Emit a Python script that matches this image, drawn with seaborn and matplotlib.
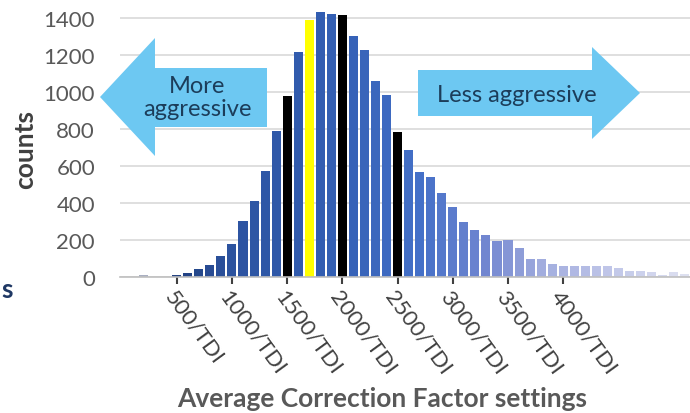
import numpy as np
import pandas as pd
import matplotlib
matplotlib.use("Agg")
import matplotlib.pyplot as plt
import matplotlib.transforms as mtransforms
from matplotlib.patches import Polygon
from matplotlib.colors import LinearSegmentedColormap, to_hex
import seaborn as sns

# ---------------- data ----------------
bins = [200, 300, 400, 500, 600, 700, 800, 900, 1000, 1100, 1200, 1300, 1400,
        1500, 1600, 1700, 1800, 1900, 2000, 2100, 2200, 2300, 2400, 2500, 2600,
        2700, 2800, 2900, 3000, 3100, 3200, 3300, 3400, 3500, 3600, 3700, 3800,
        3900, 4000, 4100, 4200, 4300, 4400, 4500, 4600, 4700, 4800, 4900, 5000,
        5100]
counts = [10, 0, 0, 13, 22, 41, 66, 113, 178, 305, 409, 575, 787,
          980, 1216, 1390, 1433, 1422, 1414, 1301, 1225, 1061, 986, 784, 688,
          566, 539, 454, 380, 296, 252, 225, 193, 198, 159, 99, 99,
          72, 58, 62, 62, 57, 60, 46, 35, 32, 25, 11, 27,
          14]
black_bins = [1500, 2000, 2500]
yellow_bins = [1700]
tick_values = [500, 1000, 1500, 2000, 2500, 3000, 3500, 4000]
tick_labels = ["500/TDI", "1000/TDI", "1500/TDI", "2000/TDI", "2500/TDI",
               "3000/TDI", "3500/TDI", "4000/TDI"]
y_ticks = [0, 200, 400, 600, 800, 1000, 1200, 1400]
left_arrow_text = "More\naggressive"
right_arrow_text = "Less aggressive"
x_title = "Average Correction Factor settings"
y_title = "counts"

# ---------------- style ----------------
sns.set_theme(style="white")
plt.rcParams['font.family'] = ['Lato', 'DejaVu Sans']

W, H = 690, 414
fig = plt.figure(figsize=(W / 100, H / 100), dpi=100)
base_px, top_px = 278, 4.2
ax = fig.add_axes([120 / W, (H - base_px) / H, 570 / W, (base_px - top_px) / H])

lo, hi = bins[0], bins[-1]
def f(v):
    return (v - lo) / (hi - lo)
cmap = LinearSegmentedColormap.from_list("grad", [
    (f(200), '#A9AFC2'), (f(500), '#21407F'), (f(1000), '#2C53A0'),
    (f(2000), '#3460B5'), (f(2700), '#4470C8'), (f(3300), '#7186D0'),
    (f(3800), '#A1ACDE'), (f(4500), '#C3C9E9'), (f(5100), '#DDE0F0')])

df = pd.DataFrame({"bin": bins, "count": counts})
df["key"] = df["bin"].astype(str)
palette = {}
for b in bins:
    if b in black_bins:
        c = '#000000'
    elif b in yellow_bins:
        c = '#FFFF00'
    else:
        c = to_hex(cmap(f(b)))
    palette[str(b)] = c

sns.barplot(data=df, x="bin", y="count", hue="key", palette=palette,
            hue_order=list(df["key"]), native_scale=True, dodge=False,
            width=0.82, legend=False, errorbar=None, saturation=1,
            linewidth=0, ax=ax)

ax.set_xlim(-14, 5148)
ax.set_ylim(0, 1480)
ax.set_yticks(y_ticks)
ax.set_yticklabels([str(v) for v in y_ticks])
ax.set_xticks(tick_values)
ax.set_xticklabels(tick_labels, rotation=-54, ha='left', va='top',
                   rotation_mode='anchor', fontsize=16, color='#404040')
offset = mtransforms.ScaledTranslation(-10 / 100, -1 / 100, fig.dpi_scale_trans)
for lab in ax.get_xticklabels():
    lab.set_transform(lab.get_transform() + offset)

ax.yaxis.grid(True, color='#D9D9D9', linewidth=1.2)
ax.xaxis.grid(False)
ax.set_axisbelow(True)
for s in ['left', 'top', 'right']:
    ax.spines[s].set_visible(False)
ax.spines['bottom'].set_color('#BFBFBF')
ax.spines['bottom'].set_linewidth(1.2)
ax.tick_params(axis='y', length=0, pad=18, labelsize=16, labelcolor='#595959')
ax.tick_params(axis='x', length=5, width=1.5, color='#404040', direction='out',
               pad=2, bottom=True)

ax.set_ylabel(y_title, fontsize=19, fontweight='bold', color='#404040')
ax.yaxis.label.set_va('center')
ax.yaxis.set_label_coords((25 - 120) / 570, (base_px - 150) / (base_px - top_px))
ax.set_xlabel(x_title, fontsize=19, fontweight='bold', color='#595959')
ax.xaxis.label.set_va('center')
ax.xaxis.set_label_coords((382 - 120) / 570, (base_px - 399) / (base_px - top_px))

# ---------------- arrows ----------------
def px(pts):
    return [(x / W, 1 - y / H) for x, y in pts]

arrow_color = '#6DC8F2'
left_pts = [(100, 98), (155, 39), (155, 69), (267, 69), (267, 128), (155, 128), (155, 157)]
right_pts = [(418, 71), (592, 71), (592, 48), (640, 94), (592, 140), (592, 117), (418, 117)]
for pts in (left_pts, right_pts):
    fig.add_artist(Polygon(px(pts), closed=True, transform=fig.transFigure,
                           facecolor=arrow_color, edgecolor='none', zorder=5))

fig.text(197 / W, 1 - 98 / H, left_arrow_text, ha='center', va='center',
         fontsize=17, color='#1C3D5A', linespacing=1.15, zorder=6)
fig.text(517 / W, 1 - 95 / H, right_arrow_text, ha='center', va='center',
         fontsize=17, color='#1C3D5A', zorder=6)

# letter at the left edge (remnant of slide text)
fig.text(1 / W, 1 - 290 / H, "s", ha='left', va='center', fontsize=19,
         fontweight='bold', color='#1F3864')

fig.savefig("out.png", dpi=100)
